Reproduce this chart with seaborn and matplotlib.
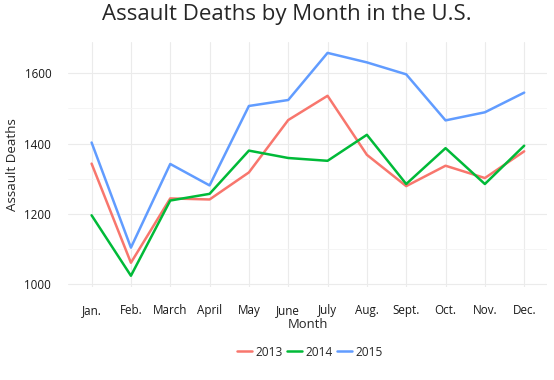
import matplotlib
matplotlib.use("Agg")
import matplotlib.pyplot as plt
from matplotlib.ticker import MultipleLocator
import pandas as pd
import seaborn as sns

# ---- data --------------------------------------------------------------
months = ["Jan.", "Feb.", "March", "April", "May", "June", "July",
          "Aug.", "Sept.", "Oct.", "Nov.", "Dec."]
deaths_2013 = [1343, 1061, 1244, 1241, 1318, 1467, 1536, 1368, 1279, 1337, 1302, 1378]
deaths_2014 = [1196, 1024, 1238, 1257, 1380, 1359, 1351, 1425, 1285, 1387, 1285, 1394]
deaths_2015 = [1403, 1104, 1342, 1281, 1507, 1524, 1658, 1631, 1597, 1466, 1489, 1545]
years = ["2013", "2014", "2015"]
colors = ["#F8766D", "#00BA38", "#619CFF"]

rows = []
for yr, vals in zip(years, [deaths_2013, deaths_2014, deaths_2015]):
    for i, (m, v) in enumerate(zip(months, vals)):
        rows.append({"idx": i, "Month": m, "Assault Deaths": v, "year": yr})
df = pd.DataFrame(rows)

sns.set_style("white")
plt.rcParams["font.family"] = ["Open Sans", "DejaVu Sans"]

fig = plt.figure(figsize=(5.54, 3.80), dpi=100)
ax = fig.add_axes([68 / 554, (380 - 287) / 380, (547 - 68) / 554, (287 - 42) / 380])

sns.lineplot(data=df, x="idx", y="Assault Deaths", hue="year",
             palette=dict(zip(years, colors)), linewidth=1.8, ax=ax, legend=False)

ax.set_xlim(-0.6, 11.58)
ax.set_ylim(992, 1689)
ax.set_xticks(range(len(months)))
ax.set_xticklabels(months)
ax.yaxis.set_major_locator(MultipleLocator(200))
ax.yaxis.set_minor_locator(MultipleLocator(100))
ax.grid(which="major", color="#ebebeb", linewidth=0.8)
ax.grid(which="minor", axis="y", color="#f4f4f4", linewidth=0.6)
ax.set_axisbelow(True)
for s in ax.spines.values():
    s.set_visible(False)
ax.tick_params(which="both", length=0, labelsize=8.4, colors="#1a1a1a")
ax.tick_params(axis="x", pad=12)
ax.tick_params(axis="y", pad=12)

ax.set_xlabel("Month", fontsize=9.4)
ax.xaxis.set_label_coords(0.5, (287 - 324.5) / 245, transform=ax.transAxes)
ax.xaxis.label.set_va("center")
ax.set_ylabel("Assault Deaths", fontsize=9.6)
ax.yaxis.set_label_coords((13 - 68) / 479, 0.5, transform=ax.transAxes)
ax.yaxis.label.set_va("center")
fig.suptitle("Assault Deaths by Month in the U.S.", fontsize=16, x=287 / 554, y=0.99)

handles = [plt.Line2D([], [], color=c, linewidth=1.8) for c in colors]
fig.legend(handles, years, loc="center", bbox_to_anchor=(310 / 554, (380 - 352) / 380),
           ncol=3, frameon=False, fontsize=8.6, handlelength=1.2, handletextpad=0.3,
           columnspacing=0.4)

fig.savefig("out.png", dpi=100)
